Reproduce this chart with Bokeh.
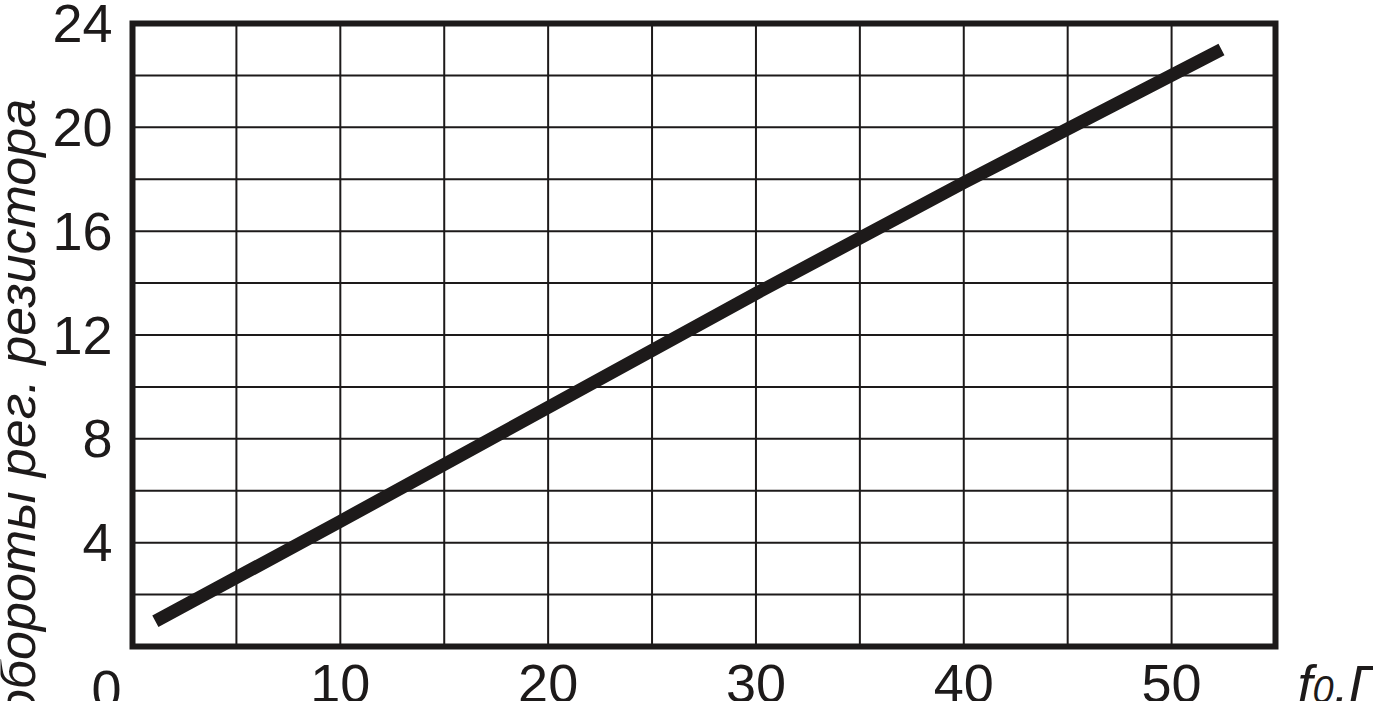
import math
from bokeh.plotting import figure
from bokeh.models import Range1d
from bokeh.core.properties import value
from bokeh.embed import file_html
from bokeh.resources import INLINE

# ---- data ----
freq_hz = [1.1, 10, 30, 40, 52.4]
turns = [0.97, 4.82, 13.6, 17.87, 23.0]

x_min, x_max = 0, 55
y_min, y_max = 0, 24
x_grid = [5, 10, 15, 20, 25, 30, 35, 40, 45, 50]
y_grid = [2, 4, 6, 8, 10, 12, 14, 16, 18, 20, 22]
x_tick_vals = [10, 20, 30, 40, 50]
x_tick_labels = ["10", "20", "30", "40", "50"]
y_tick_vals = [4, 8, 12, 16, 20, 24]
y_tick_labels = ["4", "8", "12", "16", "20", "24"]
origin_label = "0"
y_title = "обороты рег. резистора"
x_title_main = "f"
x_title_sub = "0"
x_title_rest = ",Гц"

# ---- layout (pixels) ----
W, H = 1373, 701
FL, FR, FT, FB = 132, 1275, 23, 646  # plot box edges on the canvas
INK = "#1d1a1a"
FONT = value("Liberation Sans")

sx = (FR - FL) / (x_max - x_min)
sy = (FB - FT) / (y_max - y_min)
xr = Range1d(x_min - FL / sx, x_max + (W - FR) / sx)
yr = Range1d(y_min - (H - FB) / sy, y_max + FT / sy)

p = figure(width=W, height=H, x_range=xr, y_range=yr,
           output_backend="svg", toolbar_location=None,
           min_border=0, min_border_left=0, min_border_right=0,
           min_border_top=0, min_border_bottom=0)
p.axis.visible = False
p.grid.visible = False
p.outline_line_color = None
p.background_fill_color = "white"
p.border_fill_color = "white"

# grid
p.segment(x0=x_grid, x1=x_grid, y0=[y_min] * len(x_grid), y1=[y_max] * len(x_grid),
          line_color=INK, line_width=2)
p.segment(x0=[x_min] * len(y_grid), x1=[x_max] * len(y_grid), y0=y_grid, y1=y_grid,
          line_color=INK, line_width=2)

# data line
p.line(freq_hz, turns, line_color=INK, line_width=13, line_cap="butt", line_join="round")

# plot box
p.quad(left=[x_min], right=[x_max], bottom=[y_min], top=[y_max],
       fill_color=None, line_color=INK, line_width=6, line_join="miter")

# tick labels
p.text(x=[x_min] * len(y_tick_vals), y=y_tick_vals, text=y_tick_labels,
       x_offset=-20, text_align="right", text_baseline="middle",
       text_font=FONT, text_font_size=value("54px"), text_color=INK)
p.text(x=x_tick_vals, y=[y_min] * len(x_tick_vals), text=x_tick_labels,
       y_offset=37, text_align="center", text_baseline="middle",
       text_font=FONT, text_font_size=value("54px"), text_color=INK)
p.text(x=[x_min], y=[y_min], text=[origin_label],
       x_offset=-26, y_offset=43, text_align="center", text_baseline="middle",
       text_font=FONT, text_font_size=value("54px"), text_color=INK)

# axis titles
p.text(x=[x_min], y=[y_min], text=[y_title], angle=math.pi / 2,
       x_offset=-116, y_offset=-238, text_align="center", text_baseline="middle",
       text_font=FONT, text_font_style="italic", text_font_size=value("52px"),
       text_color=INK)
p.text(x=[x_max], y=[y_min], text=[x_title_main], x_offset=22, y_offset=37,
       text_align="left", text_baseline="middle",
       text_font=FONT, text_font_style="italic", text_font_size=value("54px"),
       text_color=INK)
p.text(x=[x_max], y=[y_min], text=[x_title_sub], x_offset=37, y_offset=43,
       text_align="left", text_baseline="middle",
       text_font=FONT, text_font_style="italic", text_font_size=value("38px"),
       text_color=INK)
p.text(x=[x_max], y=[y_min], text=[x_title_rest], x_offset=58, y_offset=37,
       text_align="left", text_baseline="middle",
       text_font=FONT, text_font_style="italic", text_font_size=value("54px"),
       text_color=INK)

open("out.html", "w").write(file_html(p, INLINE))
